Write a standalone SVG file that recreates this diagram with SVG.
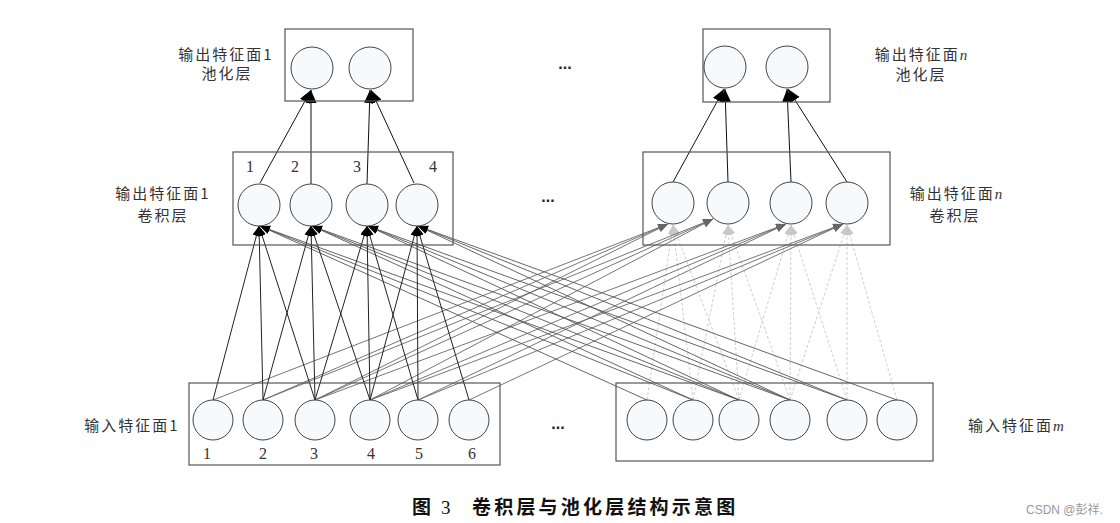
<svg xmlns="http://www.w3.org/2000/svg" width="1120" height="523" viewBox="0 0 1120 523">
<defs>
<marker id="aBig" markerUnits="userSpaceOnUse" markerWidth="14" markerHeight="12" refX="13" refY="5.5" orient="auto"><path d="M0,0 L13,5.5 L0,11 z" fill="#000"/></marker>
<marker id="aK" markerUnits="userSpaceOnUse" markerWidth="11" markerHeight="9" refX="10" refY="4" orient="auto"><path d="M0,0 L10,4 L0,8 z" fill="#000"/></marker>
<marker id="aG" markerUnits="userSpaceOnUse" markerWidth="11" markerHeight="9" refX="10" refY="4" orient="auto"><path d="M0,0 L10,4 L0,8 z" fill="#666"/></marker>
<marker id="aL" markerUnits="userSpaceOnUse" markerWidth="11" markerHeight="9" refX="10" refY="4" orient="auto"><path d="M0,0 L10,4 L0,8 z" fill="#c8c8c8"/></marker>
</defs>
<style>
.box{fill:none;stroke:#555;stroke-width:1.2}
.n{fill:#f7fafd;stroke:#444;stroke-width:1}
.lab{font-family:"Noto Sans CJK SC","Noto Sans",sans-serif;font-size:15px;fill:#333;text-anchor:middle;letter-spacing:2px}
.num{font-family:"Liberation Serif",serif;font-size:16px;fill:#333;text-anchor:middle}
.it{font-family:"Liberation Serif",serif;font-style:italic}
.dots{font-family:"Liberation Sans",sans-serif;font-size:16px;fill:#222;text-anchor:middle;font-weight:bold}
.pa{stroke:#111;stroke-width:1;fill:none;marker-end:url(#aBig)}
.ka{stroke:#222;stroke-width:1;fill:none;marker-end:url(#aK)}
.kb{stroke:#555;stroke-width:0.9;fill:none;marker-end:url(#aK)}
.gc{stroke:#666;stroke-width:0.9;fill:none;marker-end:url(#aG)}
.ld{stroke:#c8c8c8;stroke-width:0.9;fill:none;stroke-dasharray:3,2;marker-end:url(#aL)}
</style>
<rect width="1120" height="523" fill="#fff"/>

<g id="connectors">
<!-- pooling -->
<line class="pa" x1="260" y1="183" x2="311" y2="90"/>
<line class="pa" x1="311" y1="184" x2="311" y2="90"/>
<line class="pa" x1="367" y1="184" x2="370" y2="90"/>
<line class="pa" x1="414" y1="183" x2="371" y2="90"/>
<line class="pa" x1="673" y1="182" x2="724" y2="89"/>
<line class="pa" x1="728" y1="182" x2="725" y2="89"/>
<line class="pa" x1="791" y1="182" x2="787" y2="89"/>
<line class="pa" x1="847" y1="182" x2="788" y2="89"/>
<!-- right input -> right conv (light) -->
<line class="ld" x1="647" y1="400" x2="673" y2="225"/>
<line class="ld" x1="693" y1="400" x2="673" y2="225"/>
<line class="ld" x1="739" y1="400" x2="673" y2="225"/>
<line class="ld" x1="693" y1="400" x2="728" y2="225"/>
<line class="ld" x1="739" y1="400" x2="728" y2="225"/>
<line class="ld" x1="790" y1="400" x2="728" y2="225"/>
<line class="ld" x1="739" y1="400" x2="791" y2="225"/>
<line class="ld" x1="790" y1="400" x2="791" y2="225"/>
<line class="ld" x1="847" y1="400" x2="791" y2="225"/>
<line class="ld" x1="790" y1="400" x2="847" y2="225"/>
<line class="ld" x1="847" y1="400" x2="847" y2="225"/>
<line class="ld" x1="897" y1="400" x2="847" y2="225"/>
<!-- left input -> right conv (gray) -->
<line class="gc" x1="213" y1="400" x2="668" y2="224"/>
<line class="gc" x1="263" y1="400" x2="668" y2="224"/>
<line class="gc" x1="315" y1="400" x2="668" y2="224"/>
<line class="gc" x1="263" y1="400" x2="713" y2="219"/>
<line class="gc" x1="315" y1="400" x2="713" y2="219"/>
<line class="gc" x1="370" y1="400" x2="713" y2="219"/>
<line class="gc" x1="315" y1="400" x2="786" y2="224"/>
<line class="gc" x1="370" y1="400" x2="786" y2="224"/>
<line class="gc" x1="418" y1="400" x2="786" y2="224"/>
<line class="gc" x1="370" y1="400" x2="843" y2="224"/>
<line class="gc" x1="418" y1="400" x2="843" y2="224"/>
<line class="gc" x1="469" y1="400" x2="843" y2="224"/>
<!-- right input -> left conv (dark gray) -->
<line class="kb" x1="647" y1="400" x2="260" y2="226"/>
<line class="kb" x1="693" y1="400" x2="260" y2="226"/>
<line class="kb" x1="739" y1="400" x2="260" y2="226"/>
<line class="kb" x1="693" y1="400" x2="312" y2="226"/>
<line class="kb" x1="739" y1="400" x2="312" y2="226"/>
<line class="kb" x1="790" y1="400" x2="312" y2="226"/>
<line class="kb" x1="739" y1="400" x2="368" y2="226"/>
<line class="kb" x1="790" y1="400" x2="368" y2="226"/>
<line class="kb" x1="847" y1="400" x2="368" y2="226"/>
<line class="kb" x1="790" y1="400" x2="418" y2="226"/>
<line class="kb" x1="847" y1="400" x2="418" y2="226"/>
<line class="kb" x1="897" y1="400" x2="418" y2="226"/>
<!-- left input -> left conv (black) -->
<line class="ka" x1="213" y1="400" x2="259" y2="226"/>
<line class="ka" x1="263" y1="400" x2="259" y2="226"/>
<line class="ka" x1="315" y1="400" x2="259" y2="226"/>
<line class="ka" x1="263" y1="400" x2="311" y2="226"/>
<line class="ka" x1="315" y1="400" x2="311" y2="226"/>
<line class="ka" x1="370" y1="400" x2="311" y2="226"/>
<line class="ka" x1="315" y1="400" x2="367" y2="226"/>
<line class="ka" x1="370" y1="400" x2="367" y2="226"/>
<line class="ka" x1="418" y1="400" x2="367" y2="226"/>
<line class="ka" x1="370" y1="400" x2="417" y2="226"/>
<line class="ka" x1="418" y1="400" x2="417" y2="226"/>
<line class="ka" x1="469" y1="400" x2="417" y2="226"/>
</g>

<g id="pool1">
<rect class="box" x="285" y="29" width="128" height="72"/>
<circle class="n" cx="312" cy="68" r="21"/>
<circle class="n" cx="370" cy="68" r="21"/>
<text class="lab" x="226" y="60">输出特征面1</text>
<text class="lab" x="227" y="79">池化层</text>
</g>

<g id="poolN">
<rect class="box" x="703" y="29" width="127" height="73"/>
<circle class="n" cx="725" cy="67" r="21"/>
<circle class="n" cx="787" cy="67" r="21"/>
<text class="lab" x="922" y="60">输出特征面<tspan class="it">n</tspan></text>
<text class="lab" x="921" y="80">池化层</text>
</g>

<g id="conv1">
<rect class="box" x="233" y="152" width="220" height="93"/>
<circle class="n" cx="259" cy="205" r="21"/>
<circle class="n" cx="311" cy="205" r="21"/>
<circle class="n" cx="367" cy="205" r="21"/>
<circle class="n" cx="417" cy="205" r="21"/>
<text class="num" x="250" y="172">1</text>
<text class="num" x="295" y="172">2</text>
<text class="num" x="357" y="172">3</text>
<text class="num" x="433" y="172">4</text>
<text class="lab" x="163" y="199">输出特征面1</text>
<text class="lab" x="163" y="221">卷积层</text>
</g>

<g id="convN">
<rect class="box" x="643" y="152" width="247" height="93"/>
<circle class="n" cx="673" cy="203" r="21"/>
<circle class="n" cx="728" cy="203" r="21"/>
<circle class="n" cx="791" cy="203" r="21"/>
<circle class="n" cx="847" cy="203" r="21"/>
<text class="lab" x="957" y="199">输出特征面<tspan class="it">n</tspan></text>
<text class="lab" x="955" y="221">卷积层</text>
</g>

<g id="input1">
<rect class="box" x="189" y="383" width="311" height="82"/>
<circle class="n" cx="213" cy="420" r="20"/>
<circle class="n" cx="263" cy="420" r="20"/>
<circle class="n" cx="315" cy="420" r="20"/>
<circle class="n" cx="370" cy="420" r="20"/>
<circle class="n" cx="418" cy="420" r="20"/>
<circle class="n" cx="469" cy="420" r="20"/>
<text class="num" x="207" y="459">1</text>
<text class="num" x="263" y="459">2</text>
<text class="num" x="314" y="459">3</text>
<text class="num" x="371" y="459">4</text>
<text class="num" x="419" y="459">5</text>
<text class="num" x="472" y="459">6</text>
<text class="lab" x="132" y="431">输入特征面1</text>
</g>

<g id="inputM">
<rect class="box" x="616" y="383" width="317" height="78"/>
<circle class="n" cx="647" cy="420" r="20"/>
<circle class="n" cx="693" cy="420" r="20"/>
<circle class="n" cx="739" cy="420" r="20"/>
<circle class="n" cx="790" cy="420" r="20"/>
<circle class="n" cx="847" cy="420" r="20"/>
<circle class="n" cx="897" cy="420" r="20"/>
<text class="lab" x="1017" y="431">输入特征面<tspan class="it">m</tspan></text>
</g>

<g id="ellipses">
<text class="dots" x="565" y="69">...</text>
<text class="dots" x="548" y="202">...</text>
<text class="dots" x="558" y="429">...</text>
</g>

<g id="caption">
<text x="412" y="514" font-family="'Noto Sans CJK SC',sans-serif" font-size="19" font-weight="bold" fill="#111">图</text>
<text x="441" y="514" font-family="'Liberation Serif',serif" font-size="19" fill="#111">3</text>
<text x="472" y="514" font-family="'Noto Sans CJK SC',sans-serif" font-size="19" font-weight="bold" fill="#111" letter-spacing="3.2">卷积层与池化层结构示意图</text>
<text x="1026" y="514" font-family="'Liberation Sans','Noto Sans CJK SC',sans-serif" font-size="12" fill="#999">CSDN @彭祥.</text>
</g>
</svg>
